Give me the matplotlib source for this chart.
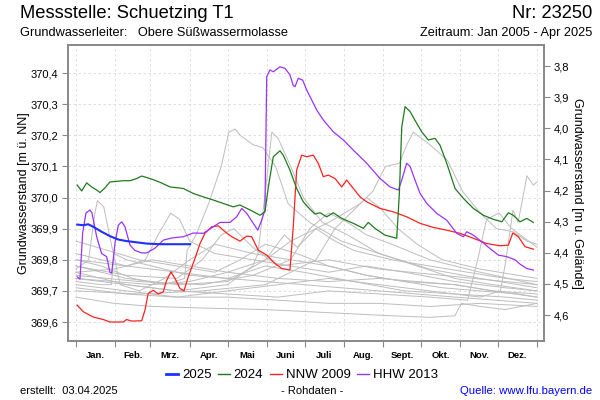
import numpy as np
import matplotlib
matplotlib.use("Agg")
import matplotlib.pyplot as plt
from matplotlib.ticker import FixedLocator, FuncFormatter

plt.rcParams["font.family"] = ["Liberation Sans", "DejaVu Sans"]

# ---- data: day of year -> groundwater level [m ue. NN] -------------------------
GELAENDE = 374.2225                      # ground level, right axis = GELAENDE - level
MONTH_EDGES = [0, 31, 59, 90, 120, 151, 181, 212, 243, 273, 304, 334, 365]
MONTHS = ["Jan.", "Feb.", "Mrz.", "Apr.", "Mai", "Juni", "Juli", "Aug.", "Sept.",
          "Okt.", "Nov.", "Dez."]
LEFT_TICKS = [369.6, 369.7, 369.8, 369.9, 370.0, 370.1, 370.2, 370.3, 370.4]
RIGHT_TICKS = [3.8, 3.9, 4.0, 4.1, 4.2, 4.3, 4.4, 4.5, 4.6]

d2025 = [1, 5.8, 9.7, 13.7, 20.3, 26.9, 33.5, 40.1, 48.1, 56, 66.5, 77, 90.3]
w2025 = [369.913, 369.911, 369.914, 369.906, 369.89, 369.876, 369.865, 369.86,
         369.856, 369.852, 369.85, 369.85, 369.85]

d2024 = [1, 4.5, 8.5, 12.4, 16.4, 19, 23, 26.9, 37.5, 42.8, 48.1, 52, 58.6, 66.5,
         74.4, 85, 92.9, 100.8, 108.7, 116.6, 124.5, 129.8, 137.8, 145.7, 149.6,
         152.3, 156.2, 161.5, 164.1, 169.4, 174.7, 180, 185.3, 189.2, 193.2, 198.5,
         203.7, 210.4, 219.6, 227.5, 231.4, 236.7, 244.7, 253.9, 256, 257.9, 260.5,
         264.5, 269.8, 273.7, 278.9, 284.2, 288.2, 293.5, 300.1, 306.7, 314.6,
         322.5, 330.4, 337.1, 342.3, 346.2, 351.5, 356.8, 362.1]
w2024 = [370.04, 370.021, 370.047, 370.034, 370.024, 370.016, 370.031, 370.05,
         370.054, 370.054, 370.061, 370.069, 370.061, 370.049, 370.034, 370.029,
         370.013, 370.002, 369.992, 369.981, 369.97, 369.976, 369.96, 369.943,
         369.954, 370.034, 370.131, 370.15, 370.136, 370.088, 370.029, 369.986,
         369.962, 369.947, 369.951, 369.938, 369.951, 369.933, 369.917, 369.901,
         369.92, 369.901, 369.879, 369.869, 370.013, 370.227, 370.292, 370.276,
         370.238, 370.211, 370.185, 370.19, 370.168, 370.11, 370.029, 369.997,
         369.965, 369.943, 369.93, 369.922, 369.951, 369.943, 369.922, 369.933,
         369.92]

d2009 = [1, 5.8, 13.7, 21.6, 26.9, 37.5, 40.1, 44.1, 52, 54.6, 57.2, 61.2, 65.2,
         69.1, 71.8, 75.2, 78.4, 82.3, 85.5, 88.9, 94.2, 98.2, 102.1, 107.4, 112.7,
         118, 123.3, 129.8, 135.2, 139.1, 144.3, 151, 157.6, 162.9, 169.4, 172,
         174.7, 178.7, 182.7, 187.9, 191.8, 195.8, 199.8, 205.1, 210.4, 214.3,
         219.6, 224.9, 230.2, 240.7, 251.2, 261.8, 272.4, 282.9, 293.5, 304,
         314.6, 325.2, 335.7, 342.3, 345.8, 350.2, 355.5, 362.1]
w2009 = [369.654, 369.633, 369.616, 369.608, 369.6, 369.6, 369.608, 369.603,
         369.604, 369.638, 369.692, 369.702, 369.69, 369.697, 369.734, 369.761,
         369.74, 369.708, 369.7, 369.745, 369.804, 369.852, 369.885, 369.906,
         369.909, 369.89, 369.874, 369.86, 369.876, 369.874, 369.831, 369.815,
         369.788, 369.772, 369.767, 369.906, 370.088, 370.136, 370.131, 370.136,
         370.11, 370.067, 370.072, 370.061, 370.034, 370.056, 370.029, 370.002,
         369.986, 369.965, 369.954, 369.938, 369.917, 369.904, 369.895, 369.885,
         369.869, 369.852, 369.845, 369.847, 369.886, 369.874, 369.842, 369.834]

d2013 = [1, 3.2, 5.3, 7.9, 11.1, 12.7, 16.4, 20.3, 24.3, 26.9, 28.3, 30.9, 33.5,
         36.2, 38.8, 42.8, 46.7, 52, 56, 62.5, 69.1, 75.8, 85, 92.9, 100.8, 108.7,
         114, 121.9, 127.2, 131.2, 135.2, 140.4, 143.9, 147, 149.6, 151, 153.6,
         156.2, 161.5, 165.5, 169.4, 172, 173.4, 176, 179.5, 182.7, 185.3, 190.6,
         195.8, 203.7, 211.6, 219.6, 230.2, 240.7, 248.6, 255.2, 257.9, 261.8,
         264.5, 268.4, 272.4, 277.7, 285.6, 293.5, 301.4, 306.7, 309.3, 314.6,
         321.2, 327.8, 334.4, 341, 347.6, 351.5, 356.8, 362.1]
w2013 = [369.745, 369.738, 369.886, 369.95, 369.96, 369.95, 369.874, 369.82,
         369.81, 369.76, 369.757, 369.853, 369.911, 369.922, 369.906, 369.847,
         369.83, 369.822, 369.822, 369.837, 369.863, 369.87, 369.874, 369.886,
         369.885, 369.906, 369.92, 369.92, 369.938, 369.965, 369.949, 369.917,
         369.895, 369.927, 369.96, 370.388, 370.41, 370.404, 370.42, 370.415,
         370.394, 370.36, 370.356, 370.383, 370.377, 370.345, 370.324, 370.281,
         370.249, 370.211, 370.185, 370.152, 370.11, 370.061, 370.034, 370.024,
         370.056, 370.11, 370.1, 370.056, 370.013, 369.981, 369.949, 369.927,
         369.885, 369.874, 369.89, 369.879, 369.858, 369.836, 369.815, 369.81,
         369.8, 369.786, 369.772, 369.767]

# other years 2005-2023 (grey)
g01 = ([0, 20, 45, 70, 86, 88, 95, 105, 115, 121, 126, 130, 140, 148, 158, 168, 185, 210, 240, 280, 320, 365],
       [369.80, 369.78, 369.74, 369.72, 369.74, 369.83, 369.88, 369.98, 370.10, 370.21, 370.22, 370.20,
        370.17, 370.16, 370.10, 369.98, 369.92, 369.86, 369.82, 369.77, 369.74, 369.71])
g02 = ([0, 40, 80, 120, 150, 170, 200, 225, 235, 245, 256, 262, 267, 280, 294, 306, 320, 333, 346, 357, 365],
       [369.78, 369.74, 369.72, 369.73, 369.80, 369.86, 369.92, 369.98, 370.02, 370.10, 370.11, 370.17,
        370.21, 370.17, 370.12, 370.02, 369.95, 369.90, 369.89, 369.86, 369.85])
g03 = ([0, 40, 80, 120, 140, 144, 150, 155, 160, 170, 180, 195, 215, 240, 270, 300, 330, 365],
       [369.76, 369.72, 369.70, 369.72, 369.78, 369.82, 370.02, 370.21, 370.19, 370.10, 370.00, 369.92,
        369.88, 369.82, 369.78, 369.74, 369.72, 369.70])
g04 = ([0, 10, 15, 17, 22, 28, 35, 50, 70, 90, 110, 140, 170, 200, 230, 260, 300, 330, 365],
       [369.77, 369.80, 369.95, 369.99, 369.97, 369.85, 369.72, 369.70, 369.74, 369.80, 369.85, 369.82,
        369.80, 369.78, 369.75, 369.73, 369.72, 369.70, 369.69])
g05 = ([0, 40, 80, 120, 160, 200, 240, 280, 320, 336, 340, 346, 350, 357, 362, 365],
       [369.72, 369.70, 369.68, 369.70, 369.72, 369.74, 369.72, 369.70, 369.68, 369.70, 369.79, 369.96,
        369.92, 370.07, 370.04, 370.05])
g06 = ([0, 20, 40, 55, 65, 75, 82, 90, 110, 140, 170, 200, 230, 260, 300, 340, 365],
       [369.82, 369.80, 369.78, 369.80, 369.88, 369.95, 369.93, 369.86, 369.82, 369.80, 369.78, 369.76,
        369.78, 369.76, 369.73, 369.71, 369.70])
g07 = ([0, 40, 80, 120, 160, 200, 240, 280, 310, 318, 325, 335, 345, 365],
       [369.74, 369.72, 369.70, 369.69, 369.68, 369.70, 369.69, 369.68, 369.67, 369.80, 369.93, 369.95,
        369.90, 369.84])
g08 = ([0, 30, 60, 100, 150, 200, 250, 280, 300, 305, 320, 340, 365],
       [369.68, 369.66, 369.65, 369.645, 369.64, 369.63, 369.62, 369.615, 369.62, 369.66, 369.65,
        369.64, 369.66])
g09 = ([0, 60, 120, 180, 240, 300, 365],
       [369.80, 369.77, 369.74, 369.72, 369.70, 369.68, 369.66])
g10 = ([0, 50, 100, 140, 170, 185, 200, 215, 230, 250, 280, 320, 365],
       [369.75, 369.73, 369.72, 369.75, 369.80, 369.90, 369.95, 369.92, 369.88, 369.85, 369.80, 369.76,
        369.72])
g11 = ([0, 40, 80, 100, 115, 125, 140, 160, 200, 240, 290, 340, 365],
       [369.78, 369.75, 369.74, 369.80, 369.88, 369.90, 369.84, 369.78, 369.80, 369.77, 369.75, 369.73,
        369.72])
g12 = ([0, 20, 28, 30, 40, 60, 90, 120, 150, 180, 220, 260, 300, 340, 365],
       [369.73, 369.72, 369.72, 369.82, 369.80, 369.78, 369.75, 369.74, 369.78, 369.76, 369.73, 369.70,
        369.69, 369.68, 369.67])
g13 = ([0, 50, 100, 150, 190, 205, 220, 230, 240, 255, 270, 290, 320, 350, 365],
       [369.70, 369.69, 369.70, 369.72, 369.80, 369.90, 369.96, 370.00, 369.97, 369.90, 369.85, 369.80,
        369.77, 369.75, 369.74])
g14 = ([0, 40, 80, 120, 160, 200, 240, 280, 320, 365],
       [369.71, 369.69, 369.68, 369.68, 369.67, 369.66, 369.66, 369.65, 369.66, 369.65])
g15 = ([0, 30, 60, 90, 120, 160, 200, 240, 270, 300, 330, 365],
       [369.76, 369.77, 369.80, 369.78, 369.76, 369.74, 369.73, 369.74, 369.73, 369.72, 369.70, 369.68])
g16 = ([0, 30, 60, 90, 120, 150, 165, 175, 190, 205, 220, 250, 280, 310, 340, 365],
       [369.74, 369.73, 369.72, 369.73, 369.76, 369.80, 369.88, 369.84, 369.90, 369.86, 369.83, 369.80,
        369.78, 369.76, 369.74, 369.73])
g17 = ([0, 25, 50, 80, 110, 130, 150, 175, 200, 230, 260, 290, 320, 350, 365],
       [369.86, 369.83, 369.80, 369.78, 369.76, 369.80, 369.85, 369.82, 369.78, 369.75, 369.73, 369.71,
        369.70, 369.69, 369.68])
GRAY = [g01, g02, g03, g04, g05, g06, g07, g08, g09, g10, g11, g12, g13, g14, g15, g16, g17]

# ---- figure ---------------------------------------------------------------------
fig = plt.figure(figsize=(6, 4), dpi=100)
ax = fig.add_axes([68 / 600, 1 - 341 / 400, 476 / 600, 296 / 400])
ax2 = ax.twinx()

for dd, ww in GRAY:
    ax.plot(dd, ww, color="#bdbdbd", lw=0.7, zorder=2)
ax.plot(d2009, w2009, color="#ff2020", lw=0.9, zorder=4)
ax.plot(d2013, w2013, color="#9933ff", lw=0.9, zorder=4)
ax.plot(d2024, w2024, color="#1f7a1f", lw=0.9, zorder=4)
ax.plot(d2025, w2025, color="#1f2fff", lw=1.5, zorder=5)

ax.set_xlim(-6.3, 370.5)
ax.set_ylim(369.539, 370.49)
ax2.set_ylim(GELAENDE - 369.539, GELAENDE - 370.49)

comma = FuncFormatter(lambda v, p: ("%.1f" % v).replace(".", ","))
ax.set_yticks(LEFT_TICKS)
ax.yaxis.set_major_formatter(comma)
ax2.set_yticks(RIGHT_TICKS)
ax2.yaxis.set_major_formatter(comma)

ax.set_xticks(MONTH_EDGES)
ax.set_xticklabels([])
mids = [(a + b) / 2 for a, b in zip(MONTH_EDGES[:-1], MONTH_EDGES[1:])]
ax.xaxis.set_minor_locator(FixedLocator(mids))
ax.set_xticklabels(MONTHS, minor=True, fontsize=6.8, fontweight="bold")
ax.tick_params(axis="x", which="minor", length=0, pad=7)

for a in (ax, ax2):
    a.tick_params(which="major", length=4, width=0.8, color="#888888", labelsize=8, pad=3)
    for s in a.spines.values():
        s.set_color("#888888")
        s.set_linewidth(1.2)

ax.grid(True, which="major", color="#d9d9d9", lw=0.6, ls=(0, (3, 3)))
ax.set_axisbelow(True)

ax.set_ylabel("Grundwasserstand [m ü. NN]", fontsize=9, labelpad=0)
ax2.set_ylabel("Grundwasserstand [m u. Gelände]", fontsize=9, rotation=-90, labelpad=10)

# ---- legend + header/footer text -------------------------------------------------
handles = [plt.Line2D([], [], color="#1f2fff", lw=2.0),
           plt.Line2D([], [], color="#1f7a1f", lw=1.0),
           plt.Line2D([], [], color="#ff2020", lw=1.0),
           plt.Line2D([], [], color="#9933ff", lw=1.0)]
fig.legend(handles, ["2025", "2024", "NNW 2009", "HHW 2013"], ncol=4, loc="center",
           bbox_to_anchor=(302 / 600, 1 - 375 / 400), frameon=False, fontsize=9.5,
           handlelength=0.9, handletextpad=0.3, columnspacing=0.5)

fig.text(20 / 600, 1 - 13 / 400, "Messstelle: Schuetzing T1", fontsize=13.2, va="center")
fig.text(592 / 600, 1 - 13 / 400, "Nr: 23250", fontsize=13.2, va="center", ha="right")
fig.text(20 / 600, 1 - 33 / 400, "Grundwasserleiter:   Obere Süßwassermolasse", fontsize=9.2,
         va="center")
fig.text(592 / 600, 1 - 33 / 400, "Zeitraum: Jan 2005 - Apr 2025", fontsize=9.2, va="center",
         ha="right")
fig.text(20 / 600, 1 - 391 / 400, "erstellt:  03.04.2025", fontsize=8, va="center")
fig.text(312 / 600, 1 - 391 / 400, "- Rohdaten -", fontsize=8, va="center", ha="center")
fig.text(592 / 600, 1 - 391 / 400, "Quelle: www.lfu.bayern.de", fontsize=8.2, va="center",
         ha="right", color="#0000ff")

fig.savefig("out.png", dpi=100)
